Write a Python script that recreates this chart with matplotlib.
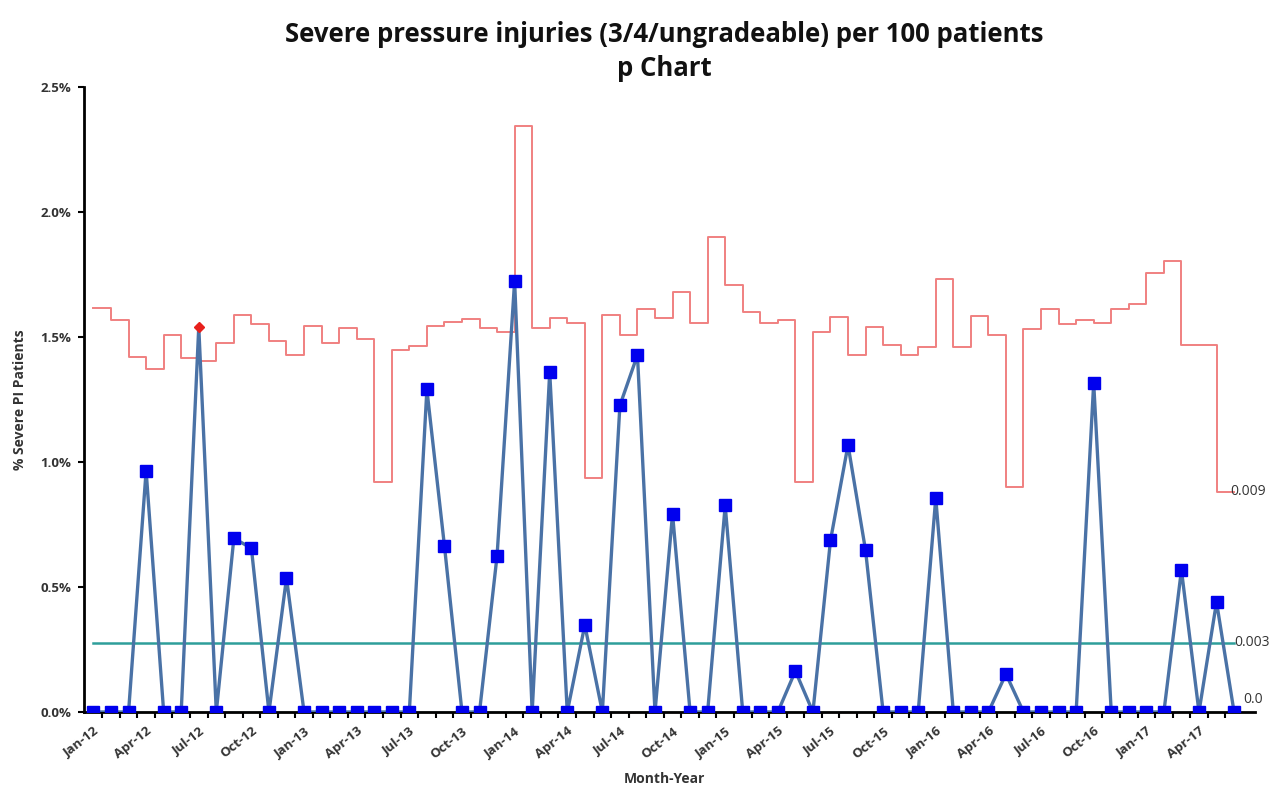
import numpy as np
import matplotlib
matplotlib.use("Agg")
import matplotlib.pyplot as plt

# monthly data, Jan-12 .. Jun-17
months = ["Jan-12", "Feb-12", "Mar-12", "Apr-12", "May-12", "Jun-12", "Jul-12", "Aug-12", "Sep-12", "Oct-12", "Nov-12", "Dec-12",
          "Jan-13", "Feb-13", "Mar-13", "Apr-13", "May-13", "Jun-13", "Jul-13", "Aug-13", "Sep-13", "Oct-13", "Nov-13", "Dec-13",
          "Jan-14", "Feb-14", "Mar-14", "Apr-14", "May-14", "Jun-14", "Jul-14", "Aug-14", "Sep-14", "Oct-14", "Nov-14", "Dec-14",
          "Jan-15", "Feb-15", "Mar-15", "Apr-15", "May-15", "Jun-15", "Jul-15", "Aug-15", "Sep-15", "Oct-15", "Nov-15", "Dec-15",
          "Jan-16", "Feb-16", "Mar-16", "Apr-16", "May-16", "Jun-16", "Jul-16", "Aug-16", "Sep-16", "Oct-16", "Nov-16", "Dec-16",
          "Jan-17", "Feb-17", "Mar-17", "Apr-17", "May-17", "Jun-17"]

# % severe PI patients
pct_severe = [0, 0, 0, 0.965, 0, 0, 1.54, 0, 0.695, 0.655, 0, 0.536,
              0, 0, 0, 0, 0, 0, 0, 1.29, 0.665, 0, 0, 0.625,
              1.724, 0, 1.36, 0, 0.348, 0, 1.226, 1.428, 0, 0.792, 0, 0,
              0.826, 0, 0, 0, 0.164, 0, 0.686, 1.068, 0.646, 0, 0, 0,
              0.856, 0, 0, 0, 0.152, 0, 0, 0, 0, 1.316, 0, 0,
              0, 0, 0.568, 0, 0.44, 0]

# upper control limit (%)
ucl = [1.616, 1.568, 1.42, 1.372, 1.508, 1.416, 1.404, 1.476, 1.588, 1.552, 1.484, 1.428,
       1.544, 1.476, 1.536, 1.492, 0.92, 1.448, 1.464, 1.544, 1.56, 1.572, 1.536, 1.52,
       2.344, 1.536, 1.576, 1.556, 0.936, 1.588, 1.508, 1.612, 1.576, 1.68, 1.556, 1.9,
       1.708, 1.6, 1.556, 1.568, 0.92, 1.52, 1.58, 1.428, 1.54, 1.468, 1.428, 1.46,
       1.732, 1.46, 1.584, 1.508, 0.90, 1.532, 1.612, 1.552, 1.568, 1.556, 1.612, 1.632,
       1.756, 1.804, 1.468, 1.468, 0.88, 0.88]

center_line = 0.276
lcl = 0.0
end_labels = ["0.009", "0.003", "0.0"]

x = np.arange(len(months))
vals = np.array(pct_severe)
lim = np.array(ucl)

plt.rcParams["font.family"] = ["Open Sans", "DejaVu Sans"]

fig = plt.figure(figsize=(12.7, 7.87), dpi=100)
ax = fig.add_axes([0.066, 0.0953, 0.914, 0.7942])

ax.step(x, lim, where="post", color="#f08080", lw=1.4, zorder=2)
ax.plot([x[0], x[-1]], [center_line, center_line], color="#2e9e9a", lw=1.8, zorder=2)
ax.plot([x[0], x[-1]], [lcl, lcl], color="#2e9e9a", lw=1.0, zorder=1)

ax.plot(x, vals, color="#4a72a6", lw=2.4, zorder=3)
out = vals > lim
ax.plot(x[~out], vals[~out], ls="none", marker="s", ms=8.5, color="#0000ee", zorder=4)
ax.plot(x[out], vals[out], ls="none", marker="D", ms=5, color="#e8201c", zorder=4)

ax.text(x[-1] - 0.2, lim[-1], end_labels[0], fontsize=10, va="center", ha="left", color="#333333")
ax.text(x[-1], center_line, end_labels[1], fontsize=10, va="center", ha="left", color="#333333")
ax.text(x[-1] + 0.5, lcl + 0.05, end_labels[2], fontsize=10, va="center", ha="left", color="#333333")

ax.set_xlim(-0.55, 65.6)
ax.set_ylim(0, 2.5)
ax.set_yticks(np.arange(0, 2.51, 0.5))
ax.set_yticklabels([f"{v:.1f}%" for v in np.arange(0, 2.51, 0.5)], fontsize=9.5, fontweight="bold",
                   color="#333333")
ax.set_xticks(x[::3])
ax.set_xticklabels(months[::3], rotation=38, ha="right", rotation_mode="anchor",
                   fontsize=9.5, fontweight="bold", color="#333333")
ax.set_xticks(x[:-1] + 0.5, minor=True)
ax.tick_params(axis="x", which="major", length=0, pad=9)
ax.tick_params(axis="x", which="minor", length=4, width=1.5, direction="out")
ax.tick_params(axis="y", length=4, width=1.5, pad=5)

for side in ["top", "right"]:
    ax.spines[side].set_visible(False)
for side in ["left", "bottom"]:
    ax.spines[side].set_linewidth(2)
ax.spines["bottom"].set_bounds(-0.55, 66.2)
ax.spines["bottom"].set_zorder(2.5)

ax.set_ylabel("% Severe PI Patients", fontsize=10, fontweight="bold", labelpad=10, color="#333333")
ax.set_xlabel("Month-Year", fontsize=10, fontweight="bold", labelpad=8, color="#333333")
ax.set_title("Severe pressure injuries (3/4/ungradeable) per 100 patients\np Chart",
             fontsize=18.5, fontweight="bold", pad=8, linespacing=1.35, color="#111111")

fig.savefig("out.png", dpi=100)
